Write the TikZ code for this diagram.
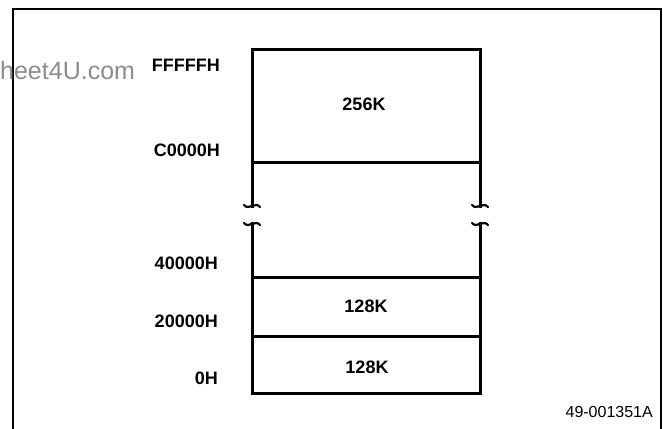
\documentclass[tikz,border=0pt]{standalone}
\usepackage{fontspec}
\setmainfont{Liberation Sans}
\begin{document}
\begin{tikzpicture}[x=1pt,y=-1pt,
  lab/.style={font=\fontsize{18}{18}\selectfont\bfseries, anchor=east, inner sep=0pt},
  sz/.style={font=\fontsize{18}{18}\selectfont\bfseries, inner sep=0pt},
  boxline/.style={line width=3pt},
  squig/.style={line width=2.2pt, line cap=round}]
\useasboundingbox (0,0) rectangle (663,428);
% frame
\draw[line width=1.8pt] (13,440) -- (13,9) -- (661,9) -- (661,440);
% watermark
\node[anchor=west, inner sep=0pt, text=black!45, font=\fontsize{25}{25}\selectfont] (wm) at (0,71) {heet4U.com};
% box corners
\coordinate (tl) at (252,50);
\coordinate (tr) at (480,50);
\coordinate (c0l) at (252,162);
\coordinate (c0r) at (480,162);
\coordinate (bl1) at (252,208);
\coordinate (br1) at (480,208);
\coordinate (bl2) at (252,222);
\coordinate (br2) at (480,222);
\coordinate (l4) at (252,277);
\coordinate (r4) at (480,277);
\coordinate (l2) at (252,336);
\coordinate (r2) at (480,336);
\coordinate (bl) at (252,393);
\coordinate (br) at (480,393);
\draw[boxline] (bl1) -- (c0l) -- (tl) -- (tr) -- (c0r) -- (br1);
\draw[boxline] (c0l) -- (c0r);
\draw[boxline] (bl2) -- (bl) -- (br) -- (br2);
\draw[boxline] (l4) -- (r4);
\draw[boxline] (l2) -- (r2);
% break squiggles
\foreach \p in {bl1,br1}{
  \draw[squig] ([xshift=-8pt,yshift=3pt]\p) .. controls ([xshift=-3pt,yshift=-3pt]\p) and ([xshift=3pt,yshift=7pt]\p) .. ([xshift=8pt,yshift=1pt]\p);
}
\foreach \p in {bl2,br2}{
  \draw[squig] ([xshift=-8pt,yshift=-1pt]\p) .. controls ([xshift=-3pt,yshift=-7pt]\p) and ([xshift=3pt,yshift=3pt]\p) .. ([xshift=8pt,yshift=-3pt]\p);
}
% address labels
\node[lab] (aF) at (220,65) {FFFFFH};
\node[lab] (aC) at (220,150.5) {C0000H};
\node[lab] (a4) at (218,263) {40000H};
\node[lab] (a2) at (218,321.5) {20000H};
\node[lab] (a0) at (218,378.5) {0H};
% sizes
\node[sz] (s256) at (364,104) {256K};
\node[sz] (s128a) at (366,306) {128K};
\node[sz] (s128b) at (367,367.5) {128K};
% figure id
\node[anchor=east, inner sep=0pt, font=\fontsize{16}{16}\selectfont] (fid) at (653,412) {49-001351A};
\end{tikzpicture}
\end{document}
